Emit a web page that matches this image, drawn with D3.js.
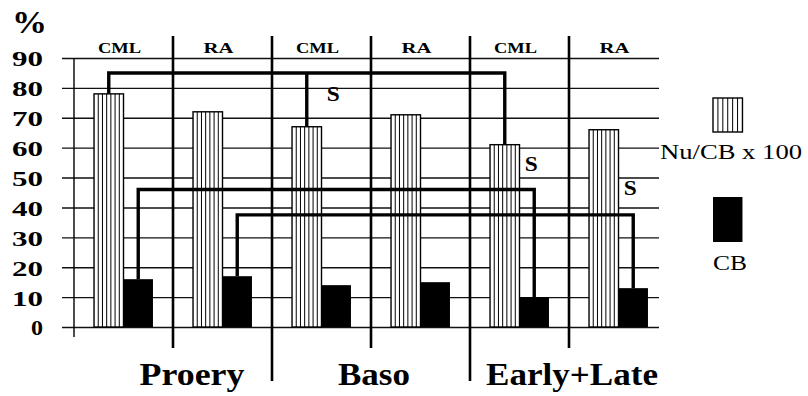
<!DOCTYPE html>
<html>
<head>
<meta charset="utf-8">
<script src="https://cdn.jsdelivr.net/npm/d3@7"></script>
<style>
  body { margin: 0; background: #fff; }
  svg { display: block; }
  text { font-family: "Liberation Serif", "DejaVu Serif", serif; fill: #000; }
</style>
</head>
<body>
<svg class="chart"></svg>
<script>
// stages and patient groups
const stages = ['Proery', 'Baso', 'Early+Late'];
const diseases = ['CML', 'RA'];
// one value per column: CML/RA within each stage
const ratio = [78, 72, 67, 71, 61, 66];   // Nu/CB x 100
const cb = [16, 17, 14, 15, 10, 13];      // CB
const yTicks = [0, 10, 20, 30, 40, 50, 60, 70, 80, 90];
// significance brackets: which columns, which series, at what level
const brackets = [
  {series: 'ratio', level: 85, cols: [0, 2, 4]},
  {series: 'cb', level: 46, cols: [0, 4]},
  {series: 'cb', level: 37.5, cols: [1, 5]},
];
const sigMarks = [
  {col: 2, value: 78},
  {col: 4, value: 54.5},
  {col: 5, value: 46.5},
];
const legendLabels = ['Nu/CB x 100', 'CB'];

const W = 808, H = 396;
const left = 74, right = 668, gridLeft = 62, gridRight = 659;

const cols = [];
stages.forEach(s => diseases.forEach(d => cols.push(d + '|' + s)));
const values = {ratio: ratio, cb: cb};

const svg = d3.select('.chart')
  .attr('width', W)
  .attr('height', H);

const x0 = d3.scaleBand()
  .domain(cols)
  .range([left, right]);

const x1 = d3.scaleBand()
  .domain(['ratio', 'cb'])
  .range([0, x0.bandwidth()])
  .paddingOuter(0.68);

const xs = d3.scaleBand()
  .domain(stages)
  .range([left, right]);

const y = d3.scaleLinear()
  .domain([0, 90])
  .range([327, 58]);

function colX(i, series) {
  return x0(cols[i]) + x1(series);
}

// text squeezed/stretched to the width it has in the source
function label(parent, x, yy, txt, size, len, anchor, weight) {
  return parent.append('text')
    .attr('x', x)
    .attr('y', yy)
    .attr('textLength', len)
    .attr('lengthAdjust', 'spacingAndGlyphs')
    .style('font-size', size + 'px')
    .style('font-weight', weight || 'bold')
    .attr('text-anchor', anchor || 'start')
    .text(txt);
}

// y axis with gridlines
const yAxis = d3.axisLeft(y)
  .tickValues(yTicks)
  .tickSize(-(gridRight - gridLeft))
  .tickPadding(19);

const ax = svg.append('g')
  .attr('transform', `translate(${gridLeft},0)`)
  .call(yAxis);
ax.select('.domain').remove();
ax.selectAll('.tick line')
  .attr('stroke', '#111')
  .attr('stroke-width', 1.4);
ax.selectAll('.tick text')
  .attr('dy', '0.36em')
  .attr('textLength', d => String(d).length > 1 ? 31 : 12)
  .attr('lengthAdjust', 'spacingAndGlyphs')
  .style('font-family', '"Liberation Serif", "DejaVu Serif", serif')
  .style('font-weight', 'bold')
  .style('font-size', '22px')
  .attr('fill', '#000');

label(svg, 12, 33, '%', 32, 35, 'start');

// y axis line
svg.append('line')
  .attr('x1', left).attr('x2', left)
  .attr('y1', y(90)).attr('y2', y(0) + 10)
  .attr('stroke', '#000')
  .attr('stroke-width', 1.4);

// column separators
cols.forEach((c, i) => {
  if (i === 0) return;
  const stageBoundary = i % 2 === 0;
  svg.append('line')
    .attr('x1', x0(c)).attr('x2', x0(c))
    .attr('y1', 36)
    .attr('y2', stageBoundary ? 381 : 348)
    .attr('stroke', '#000')
    .attr('stroke-width', 2.6);
});

// striped bars
function stripes(g, x, yTop, w, h, n) {
  g.append('rect')
    .attr('x', x).attr('y', yTop)
    .attr('width', w).attr('height', h)
    .attr('fill', '#fff')
    .attr('stroke', '#000')
    .attr('stroke-width', 1.4);
  d3.range(1, n).forEach(k => {
    g.append('line')
      .attr('x1', x + k * w / n).attr('x2', x + k * w / n)
      .attr('y1', yTop).attr('y2', yTop + h)
      .attr('stroke', '#000')
      .attr('stroke-width', 1);
  });
}

const bars = svg.append('g');
ratio.forEach((v, i) => {
  stripes(bars, colX(i, 'ratio'), y(v), x1.bandwidth(), y(0) - y(v), 7);
});

bars.selectAll('.cb')
  .data(cb)
  .enter()
.append('rect')
  .attr('class', 'cb')
  .attr('x', (d, i) => colX(i, 'cb'))
  .attr('y', d => y(d))
  .attr('width', x1.bandwidth())
  .attr('height', d => y(0) - y(d))
  .attr('fill', '#000');

// column labels on top
cols.forEach((c, i) => {
  const name = diseases[i % 2];
  label(svg, x0(c) + x0.bandwidth() / 2 - 4, 53, name, 15, name === 'CML' ? 43 : 30, 'middle');
});

// stage labels at bottom
const stageDx = [19, 3, 3];
const stageLen = [105, 72, 172];
stages.forEach((s, i) => {
  label(svg, xs(s) + xs.bandwidth() / 2 + stageDx[i], 385, s, 32, stageLen[i], 'middle');
});

// significance brackets
brackets.forEach(b => {
  const vals = values[b.series];
  const cx = i => colX(i, b.series) + x1.bandwidth() / 2;
  const first = b.cols[0], last = b.cols[b.cols.length - 1];
  svg.append('path')
    .attr('d', `M${cx(first)},${y(vals[first])}V${y(b.level)}H${cx(last)}V${y(vals[last])}`)
    .attr('fill', 'none')
    .attr('stroke', '#000')
    .attr('stroke-width', 3.4);
  b.cols.slice(1, -1).forEach(i => {
    svg.append('line')
      .attr('x1', cx(i)).attr('x2', cx(i))
      .attr('y1', y(b.level)).attr('y2', y(vals[i]))
      .attr('stroke', '#000')
      .attr('stroke-width', 3.4);
  });
});

sigMarks.forEach(m => {
  label(svg, colX(m.col, 'cb') + x1.bandwidth() / 2 - 3, y(m.value) + 7, 'S', 21, 13, 'middle');
});

// legend
const lg = svg.append('g');
stripes(lg, 713, 98, x1.bandwidth(), 34, 6);
label(lg, 660, 159, legendLabels[0], 21, 142, 'start', 'normal');
lg.append('rect')
  .attr('x', 713).attr('y', 197)
  .attr('width', x1.bandwidth()).attr('height', 45)
  .attr('fill', '#000');
label(lg, 713, 270, legendLabels[1], 22, 34, 'start', 'normal');
</script>
</body>
</html>
